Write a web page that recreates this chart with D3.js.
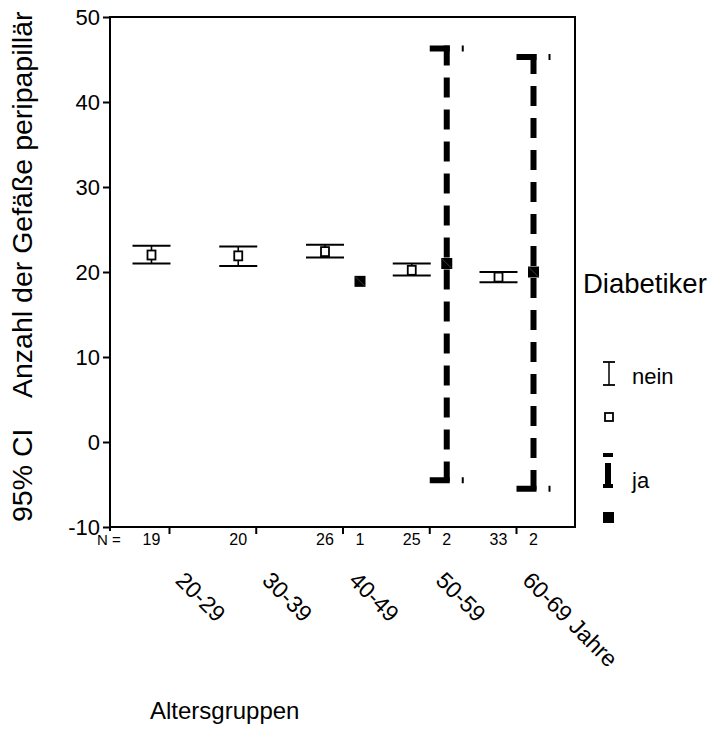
<!DOCTYPE html>
<html><head><meta charset="utf-8">
<script src="https://cdn.jsdelivr.net/npm/d3@7"></script>
<style>
body{margin:0;background:#fff}
text{font-family:"Liberation Sans",Arial,Helvetica,sans-serif;fill:#000}
</style></head>
<body><svg id="c" width="711" height="737"></svg>
<script>
const groups = ["20-29","30-39","40-49","50-59","60-69 Jahre"];
const neinN    = [19, 20, 26, 25, 33];
const neinMean = [22.0, 21.9, 22.4, 20.2, 19.4];
const neinLo   = [21.0, 20.7, 21.7, 19.6, 18.8];
const neinHi   = [23.1, 23.0, 23.2, 21.0, 20.0];
const jaN      = [null, null, 1, 2, 2];
const jaMean   = [null, null, 18.9, 21.0, 20.0];
const jaLo     = [null, null, null, -4.5, -5.5];
const jaHi     = [null, null, null, 46.3, 45.3];
const yTicks   = [-10, 0, 10, 20, 30, 40, 50];
const yTitleA = "95% CI";
const yTitleB = "Anzahl der Gefäße peripapillär";
const xTitle = "Altersgruppen";
const legendTitle = "Diabetiker";
const legendLabels = ["nein", "ja"];

const svg = d3.select("#c");
const L = 110, R = 575, T = 17, B = 527;
const y = d3.scaleLinear().domain([-10, 50]).range([B, T]);
const x = d3.scalePoint().domain(groups).range([L, R]).padding(0.68);
const off = 17.5;

// frame
svg.append("rect").attr("x", L).attr("y", T).attr("width", R - L).attr("height", B - T)
  .attr("fill", "none").attr("stroke", "#000").attr("stroke-width", 2);

// y axis
const ya = svg.append("g").attr("transform", `translate(${L},0)`)
  .call(d3.axisLeft(y).tickValues(yTicks).tickSize(7).tickPadding(3).tickFormat(d => String(d)));
ya.select(".domain").remove();
ya.selectAll("line").attr("stroke", "#000").attr("stroke-width", 2);
ya.selectAll("text").style("font-size", "22px").attr("font-family", null);

// x axis ticks
const xa = svg.append("g").attr("transform", `translate(0,${B})`)
  .call(d3.axisBottom(x).tickSize(7).tickFormat(""));
xa.select(".domain").remove();
xa.selectAll("line").attr("stroke", "#000").attr("stroke-width", 2);
svg.append("line").attr("x1", L).attr("x2", L).attr("y1", B).attr("y2", B + 4)
  .attr("stroke", "#000").attr("stroke-width", 2);

// N labels
svg.append("text").attr("x", 97).attr("y", 545).style("font-size", "15px").text("N =");
groups.forEach((g, i) => {
  svg.append("text").attr("x", x(g) - off).attr("y", 545).attr("text-anchor", "middle")
    .style("font-size", "16px").text(neinN[i]);
  if (jaN[i] != null)
    svg.append("text").attr("x", x(g) + off).attr("y", 545).attr("text-anchor", "middle")
      .style("font-size", "16px").text(jaN[i]);
});

// rotated group labels
groups.forEach(g => {
  svg.append("text").attr("transform", `translate(${x(g) + 17},${570}) rotate(45)`)
    .attr("dy", "0.72em").style("font-size", "23px").text(g);
});

// nein error bars
const nG = svg.append("g");
groups.forEach((g, i) => {
  const cx = x(g) - off;
  nG.append("line").attr("x1", cx).attr("x2", cx).attr("y1", y(neinHi[i])).attr("y2", y(neinLo[i]))
    .attr("stroke", "#000").attr("stroke-width", 1.6);
  [neinHi[i], neinLo[i]].forEach(v => nG.append("line").attr("x1", cx - 19).attr("x2", cx + 19)
    .attr("y1", y(v)).attr("y2", y(v)).attr("stroke", "#000").attr("stroke-width", 2));
  nG.append("rect").attr("x", cx - 4).attr("y", y(neinMean[i]) - 4.5).attr("width", 8).attr("height", 9)
    .attr("fill", "#fff").attr("stroke", "#000").attr("stroke-width", 1.8);
});

// ja error bars (thick dashed)
const jG = svg.append("g");
groups.forEach((g, i) => {
  const cx = x(g) + off;
  if (jaHi[i] != null) {
    const st = l => l.attr("stroke", "#000").attr("stroke-width", 6).attr("stroke-dasharray", "20,12").attr("fill", "none");
    st(jG.append("line").attr("x1", cx).attr("x2", cx).attr("y1", y(jaHi[i]) - 3).attr("y2", y(jaLo[i]) + 3));
    [jaHi[i], jaLo[i]].forEach(v => st(jG.append("line").attr("x1", cx - 17).attr("x2", cx + 17)
      .attr("y1", y(v)).attr("y2", y(v))));
  }
  if (jaMean[i] != null) {
    jG.append("rect").attr("x", cx - 5.5).attr("y", y(jaMean[i]) - 5.5).attr("width", 11).attr("height", 11)
      .attr("fill", "#000");
    jG.append("line").attr("x1", cx - 5).attr("y1", y(jaMean[i]) - 5).attr("x2", cx + 5).attr("y2", y(jaMean[i]) + 5)
      .attr("stroke", "#666").attr("stroke-width", 0.6);
  }
});

// axis titles
svg.append("text").attr("transform", `translate(32,522) rotate(-90)`).style("font-size", "28.5px").text(yTitleA);
svg.append("text").attr("transform", `translate(32,398) rotate(-90)`).style("font-size", "28.5px").text(yTitleB);
svg.append("text").attr("x", 150).attr("y", 719).style("font-size", "24px").text(xTitle);

// legend
svg.append("text").attr("x", 583).attr("y", 293).style("font-size", "27.5px").text(legendTitle);
const lg = svg.append("g");
lg.append("line").attr("x1", 609).attr("x2", 609).attr("y1", 362).attr("y2", 385).attr("stroke", "#000").attr("stroke-width", 1.5);
[362, 385].forEach(v => lg.append("line").attr("x1", 603).attr("x2", 615).attr("y1", v).attr("y2", v).attr("stroke", "#000").attr("stroke-width", 1.8));
lg.append("text").attr("x", 632).attr("y", 384).style("font-size", "22px").text(legendLabels[0]);
lg.append("rect").attr("x", 605).attr("y", 413).attr("width", 8).attr("height", 8).attr("fill", "#fff").attr("stroke", "#000").attr("stroke-width", 1.8);
lg.append("rect").attr("x", 603).attr("y", 453).attr("width", 10).attr("height", 4).attr("fill", "#000");
lg.append("rect").attr("x", 605).attr("y", 463).attr("width", 6).attr("height", 25).attr("fill", "#000");
lg.append("rect").attr("x", 603).attr("y", 484).attr("width", 10).attr("height", 4).attr("fill", "#000");
lg.append("text").attr("x", 632).attr("y", 488).style("font-size", "22px").text(legendLabels[1]);
lg.append("rect").attr("x", 603).attr("y", 512).attr("width", 11).attr("height", 11).attr("fill", "#000");
</script></body></html>
